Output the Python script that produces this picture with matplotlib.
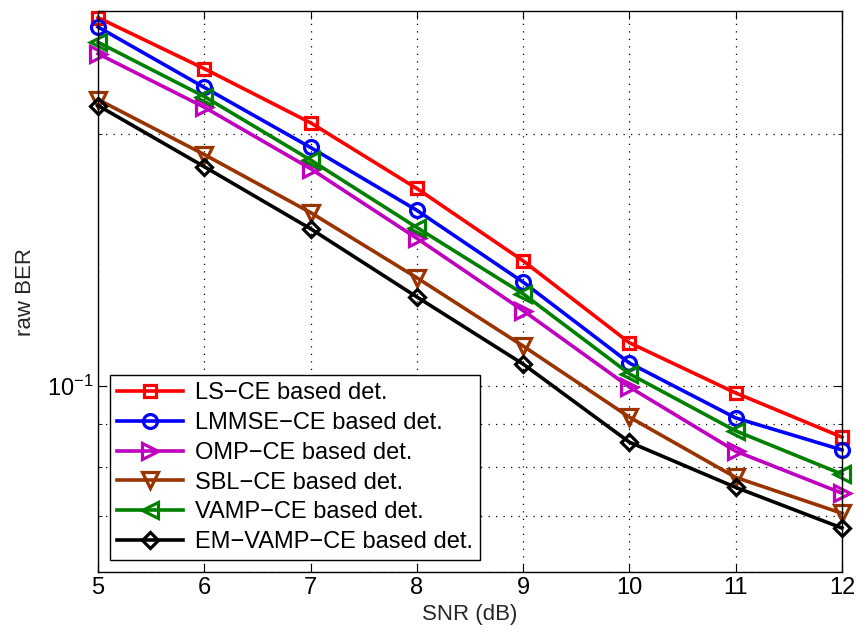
import numpy as np
import matplotlib
matplotlib.use("Agg")
import matplotlib.pyplot as plt
from matplotlib.ticker import NullFormatter, FixedLocator, LogFormatterMathtext

plt.rcParams['font.family'] = ['Liberation Sans', 'DejaVu Sans']

snr = [5, 6, 7, 8, 9, 10, 11, 12]
ls_ber = [0.275, 0.239, 0.206, 0.172, 0.141, 0.1126, 0.0981, 0.0869]
lmmse_ber = [0.268, 0.227, 0.1925, 0.162, 0.133, 0.1065, 0.0916, 0.0839]
omp_ber = [0.249, 0.215, 0.1816, 0.150, 0.123, 0.0997, 0.0836, 0.0745]
sbl_ber = [0.2196, 0.1888, 0.161, 0.1346, 0.1116, 0.0918, 0.0778, 0.0705]
vamp_ber = [0.257, 0.2214, 0.186, 0.1545, 0.1288, 0.1034, 0.0884, 0.0785]
emvamp_ber = [0.216, 0.1826, 0.154, 0.1277, 0.1062, 0.0857, 0.0757, 0.0677]

labels = ['LS\u2212CE based det.', 'LMMSE\u2212CE based det.', 'OMP\u2212CE based det.',
          'SBL\u2212CE based det.', 'VAMP\u2212CE based det.', 'EM\u2212VAMP\u2212CE based det.']
series = [ls_ber, lmmse_ber, omp_ber, sbl_ber, vamp_ber, emvamp_ber]
colors = ['#ff0000', '#0000ff', '#bf00bf', '#993300', '#008000', '#000000']
markers = ['s', 'o', '>', 'v', '<', 'D']
msizes = [8.5, 10, 12, 12, 12, 8.5]

fig = plt.figure(figsize=(8.57, 6.41), dpi=100)
ax = fig.add_axes([0.1144, 0.1076, 0.8681, 0.8752])

for y, lab, c, m, ms in zip(series, labels, colors, markers, msizes):
    ax.plot(snr, y, color=c, marker=m, markersize=ms, markerfacecolor='none',
            markeredgewidth=2.3, linewidth=2.6, label=lab, clip_on=False)

ax.set_yscale('log')
ax.set_xlim(5, 12)
ax.set_ylim(0.06, 0.28)
ax.set_xticks(snr)
ax.yaxis.set_major_locator(FixedLocator([0.1]))
ax.yaxis.set_major_formatter(LogFormatterMathtext())
ax.yaxis.set_minor_locator(FixedLocator([0.06, 0.07, 0.08, 0.09, 0.2]))
ax.yaxis.set_minor_formatter(NullFormatter())

ax.grid(True, which='both', linestyle=(0, (1, 5)), color='black', linewidth=0.9)
ax.tick_params(which='both', direction='in', top=True, right=True, labelsize=17,
               colors='black')
ax.tick_params(which='major', length=6)
ax.tick_params(which='minor', length=3)
for s in ax.spines.values():
    s.set_linewidth(1.0)

ax.set_xlabel('SNR (dB)', fontsize=16, color='#262626', labelpad=4)
ax.set_ylabel('raw BER', fontsize=16, color='#262626', labelpad=8)

leg = ax.legend(loc='lower left', fontsize=17, fancybox=False, framealpha=1,
                edgecolor='black', borderaxespad=0.5, labelspacing=0.33,
                handlelength=2.8, borderpad=0.3, handletextpad=0.5)
leg.get_frame().set_linewidth(1.0)

fig.savefig('out.png', dpi=100)
